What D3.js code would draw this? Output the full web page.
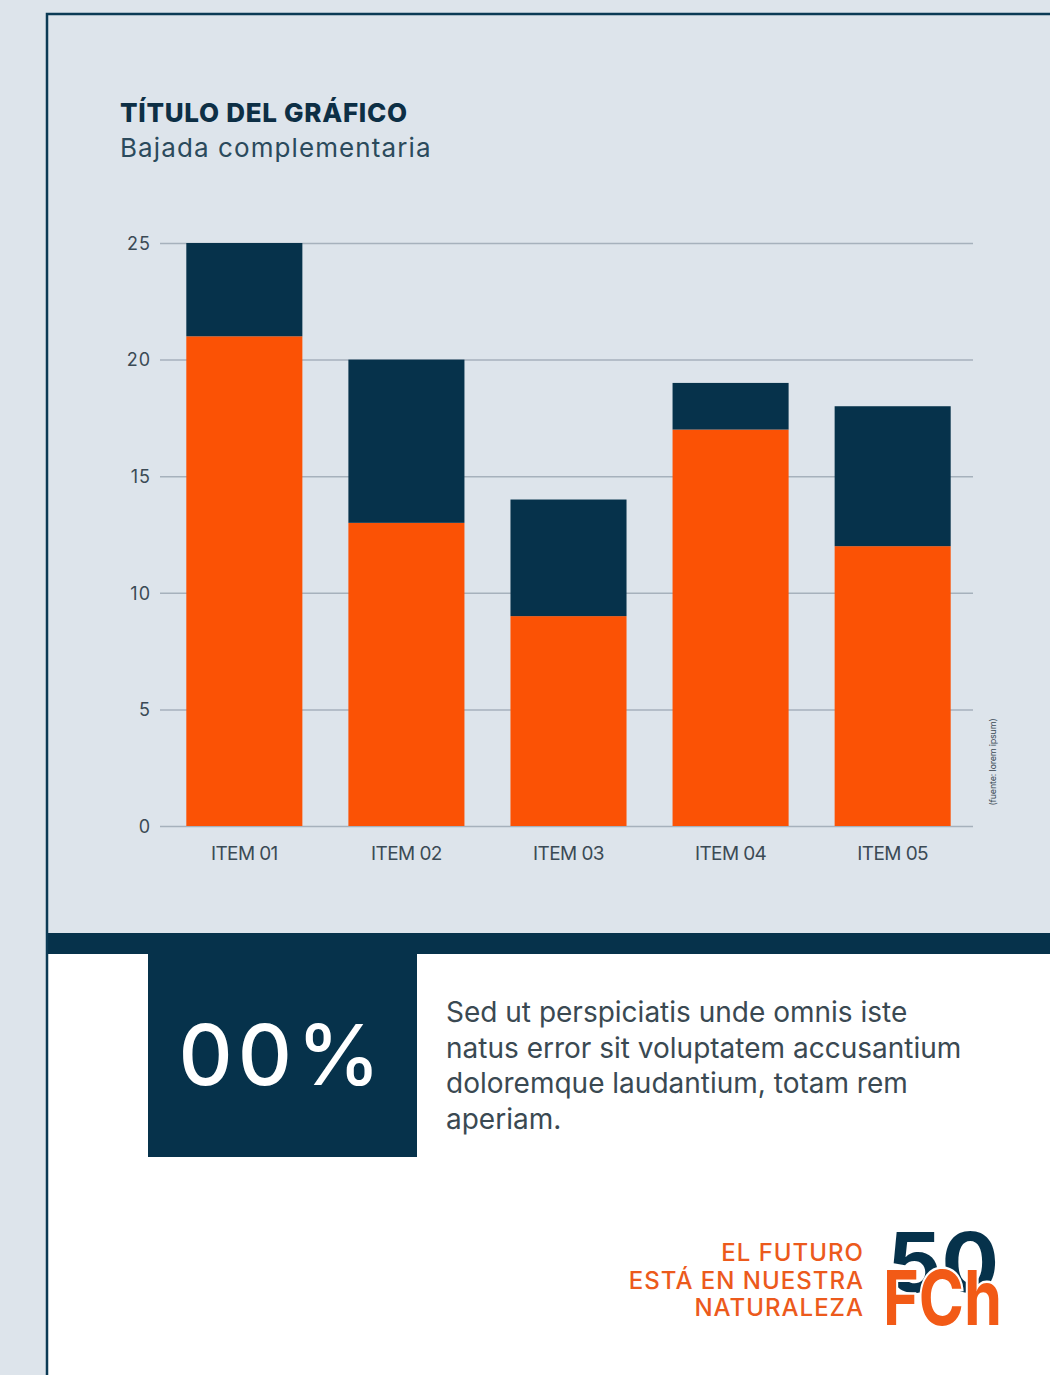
<!DOCTYPE html>
<html><head><meta charset="utf-8">
<script src="https://cdn.jsdelivr.net/npm/d3@7"></script>
<style>html,body{margin:0;padding:0;background:#dde4eb;}svg{display:block;}</style>
</head><body>
<script>
const categories = ["ITEM 01","ITEM 02","ITEM 03","ITEM 04","ITEM 05"];
const seriesA = [21, 13, 9, 17, 12];   // orange (bottom)
const seriesB = [4, 7, 5, 2, 6];       // navy (top)
const yTicks = [0, 5, 10, 15, 20, 25];
const title = "TÍTULO DEL GRÁFICO";
const subtitle = "Bajada complementaria";
const source = "(fuente: lorem ipsum)";
const bigNumber = "00%";
const paragraph = ["Sed ut perspiciatis unde omnis iste","natus error sit voluptatem accusantium","doloremque laudantium, totam rem","aperiam."];
const slogan = ["EL FUTURO","ESTÁ EN NUESTRA","NATURALEZA"];

const W = 1050, H = 1375;
const NAVY = "#06324b", ORANGE = "#fb5205", BG = "#dde4eb";
const FONT = "Inter, 'Open Sans', sans-serif";
const svg = d3.select("body").append("svg").attr("width", W).attr("height", H);
svg.append("rect").attr("width", W).attr("height", H).attr("fill", BG);

// bottom white panel and band
svg.append("rect").attr("x", 48).attr("y", 944).attr("width", W - 48).attr("height", H - 944).attr("fill", "#ffffff");
svg.append("rect").attr("x", 48).attr("y", 933).attr("width", W - 48).attr("height", 21).attr("fill", NAVY);
// frame
svg.append("path").attr("d", `M47,${H} L47,14 L${W},14`).attr("fill", "none").attr("stroke", "#0b3a55").attr("stroke-width", 2.5);

// titles
svg.append("text").attr("x", 120).attr("y", 122).text(title)
  .attr("font-family", FONT).attr("font-weight", 800).attr("font-size", 26)
  .attr("letter-spacing", "0.7").attr("fill", "#0d2f45");
svg.append("text").attr("x", 120).attr("y", 157).text(subtitle)
  .attr("font-family", FONT).attr("font-weight", 400).attr("font-size", 26)
  .attr("letter-spacing", "1.1").attr("fill", "#2b4a5c");

// chart
const y = d3.scaleLinear().domain([0, 25]).range([826, 243]);
const x = d3.scaleBand().domain(categories).range([162, 975]).paddingInner(0.284).paddingOuter(0.15);

const grid = svg.append("g").attr("transform", "translate(160,0)")
  .call(d3.axisLeft(y).tickValues(yTicks).tickSize(-813).tickFormat(""));
grid.select(".domain").remove();
grid.selectAll("line").attr("stroke", "#a6b1bc").attr("stroke-width", 1.5);

const yl = svg.append("g").attr("transform", "translate(151,0)")
  .call(d3.axisLeft(y).tickValues(yTicks).tickSize(0).tickPadding(0));
yl.select(".domain").remove();
yl.selectAll("text").attr("font-family", FONT).attr("font-size", 18)
  .attr("fill", "#3b4a55").attr("dy", "0.35em").attr("letter-spacing", "1");

const stackData = categories.map((c, i) => ({cat: c, a: seriesA[i], b: seriesB[i]}));
const stacked = d3.stack().keys(["a", "b"])(stackData);
const colors = {a: ORANGE, b: NAVY};
svg.append("g").selectAll("g").data(stacked).join("g").attr("fill", d => colors[d.key])
  .selectAll("rect").data(d => d).join("rect")
  .attr("x", d => x(d.data.cat)).attr("width", x.bandwidth())
  .attr("y", d => y(d[1])).attr("height", d => y(d[0]) - y(d[1]));

const xl = svg.append("g").attr("transform", "translate(0,826)")
  .call(d3.axisBottom(x).tickSize(0).tickPadding(0));
xl.select(".domain").remove();
xl.selectAll("text").attr("font-family", FONT).attr("font-size", 19)
  .attr("fill", "#3b4a55").attr("dy", "34").attr("letter-spacing", "-0.6")
  .text(d => d);

svg.append("text").attr("transform", "translate(996,762) rotate(-90)").attr("text-anchor", "middle")
  .text(source).attr("font-family", FONT).attr("font-size", 9).attr("letter-spacing", "-0.2").attr("fill", "#3b4a55");

// highlight box
svg.append("rect").attr("x", 148).attr("y", 954).attr("width", 269).attr("height", 203).attr("fill", NAVY);
svg.append("text").attr("x", 282).attr("y", 1085).attr("text-anchor", "middle").text(bigNumber)
  .attr("font-family", FONT).attr("font-weight", 500).attr("font-size", 84)
  .attr("letter-spacing", "5").attr("fill", "#ffffff");

svg.append("g").selectAll("text").data(paragraph).join("text")
  .attr("x", 446).attr("y", (d, i) => 1022 + i * 35.5).text(d => d)
  .attr("font-family", FONT).attr("font-size", 28).attr("letter-spacing", "0")
  .attr("fill", "#3a4952");

// logo
svg.append("g").selectAll("text").data(slogan).join("text")
  .attr("x", 864).attr("y", (d, i) => 1261 + i * 27.5).attr("text-anchor", "end").text(d => d)
  .attr("font-family", FONT).attr("font-weight", 500).attr("font-size", 24)
  .attr("letter-spacing", "1").attr("fill", "#ec5a1c");
svg.append("text").attr("x", 887).attr("y", 1292).text("50")
  .attr("font-family", FONT).attr("font-weight", 700).attr("font-size", 82)
  .attr("textLength", 112).attr("lengthAdjust", "spacingAndGlyphs").attr("fill", NAVY);
svg.append("text").attr("x", 883).attr("y", 1325).text("FCh")
  .attr("font-family", FONT).attr("font-weight", 700).attr("font-size", 76)
  .attr("textLength", 119).attr("lengthAdjust", "spacingAndGlyphs").attr("fill", "#f25a16")
  .attr("stroke", "#ffffff").attr("stroke-width", 5).attr("paint-order", "stroke");
</script>
</body></html>
